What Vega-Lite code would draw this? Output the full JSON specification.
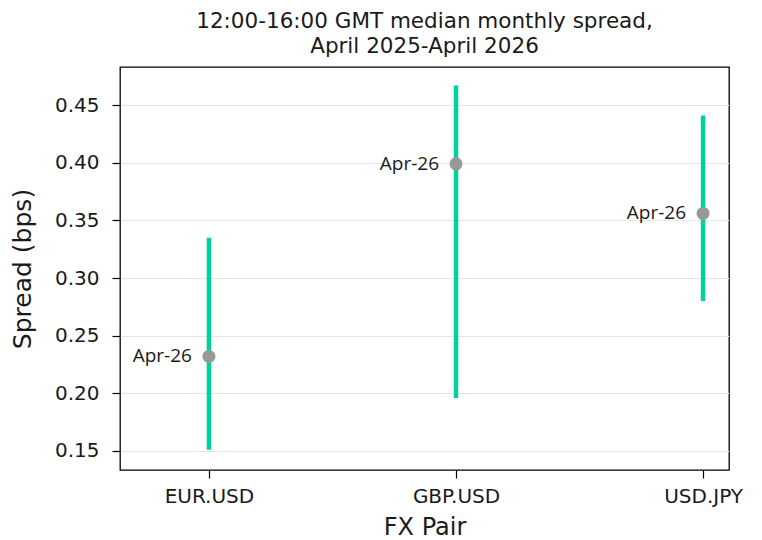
{
  "$schema": "https://vega.github.io/schema/vega-lite/v6.json",
  "width": 609,
  "height": 403,
  "autosize": "none",
  "padding": {"left": 120, "top": 67, "right": 33, "bottom": 70},
  "background": "white",
  "title": {
    "text": ["12:00-16:00 GMT median monthly spread,", "April 2025-April 2026"],
    "font": "DejaVu Sans",
    "fontSize": 21.5,
    "fontWeight": "normal",
    "color": "#1a1a1a",
    "anchor": "middle",
    "lineHeight": 25,
    "offset": 10
  },
  "config": {
    "view": {"stroke": "#000", "strokeWidth": 1.3},
    "font": "DejaVu Sans"
  },
  "data": {
    "values": [
      {"pair": "EUR.USD", "idx": 0, "low": 0.151, "high": 0.335, "current": 0.232, "label": "Apr-26"},
      {"pair": "GBP.USD", "idx": 1, "low": 0.196, "high": 0.467, "current": 0.399, "label": "Apr-26"},
      {"pair": "USD.JPY", "idx": 2, "low": 0.280, "high": 0.441, "current": 0.356, "label": "Apr-26"}
    ]
  },
  "encoding": {
    "x": {
      "field": "idx",
      "type": "quantitative",
      "scale": {"domain": [-0.36, 2.105], "nice": false, "zero": false},
      "axis": {
        "title": "FX Pair",
        "values": [0, 1, 2],
        "labelExpr": "datum.value == 0 ? 'EUR.USD' : datum.value == 1 ? 'GBP.USD' : 'USD.JPY'",
        "grid": false,
        "domain": false,
        "tickColor": "#000",
        "tickSize": 8,
        "tickWidth": 1.2,
        "labelFontSize": 20,
        "labelColor": "#1a1a1a",
        "labelPadding": 8,
        "titleFontSize": 24,
        "titleFontWeight": "normal",
        "titleColor": "#1a1a1a",
        "titlePadding": 9
      }
    }
  },
  "layer": [
    {
      "mark": {"type": "rule", "color": "#00d19b", "strokeWidth": 4.5},
      "encoding": {
        "y": {
          "field": "low",
          "type": "quantitative",
          "scale": {"domain": [0.1335, 0.483], "nice": false, "zero": false},
          "axis": {
            "title": "Spread (bps)",
            "values": [0.15, 0.2, 0.25, 0.3, 0.35, 0.4, 0.45],
            "format": ".2f",
            "grid": true,
            "gridColor": "#e6e6e6",
            "gridWidth": 1,
            "domain": false,
            "tickColor": "#000",
            "tickSize": 8,
            "tickWidth": 1.2,
            "labelFontSize": 20,
            "labelColor": "#1a1a1a",
            "labelPadding": 13,
            "titleFontSize": 25,
            "titleFontWeight": "normal",
            "titleColor": "#1a1a1a",
            "titlePadding": 19
          }
        },
        "y2": {"field": "high"}
      }
    },
    {
      "mark": {"type": "point", "filled": true, "color": "#999999", "opacity": 1, "size": 170},
      "encoding": {
        "y": {"field": "current", "type": "quantitative"}
      }
    },
    {
      "mark": {"type": "text", "align": "right", "baseline": "middle", "dx": -17, "font": "Open Sans", "fontSize": 19, "color": "#1a1a1a"},
      "encoding": {
        "y": {"field": "current", "type": "quantitative"},
        "text": {"field": "label"}
      }
    }
  ]
}
